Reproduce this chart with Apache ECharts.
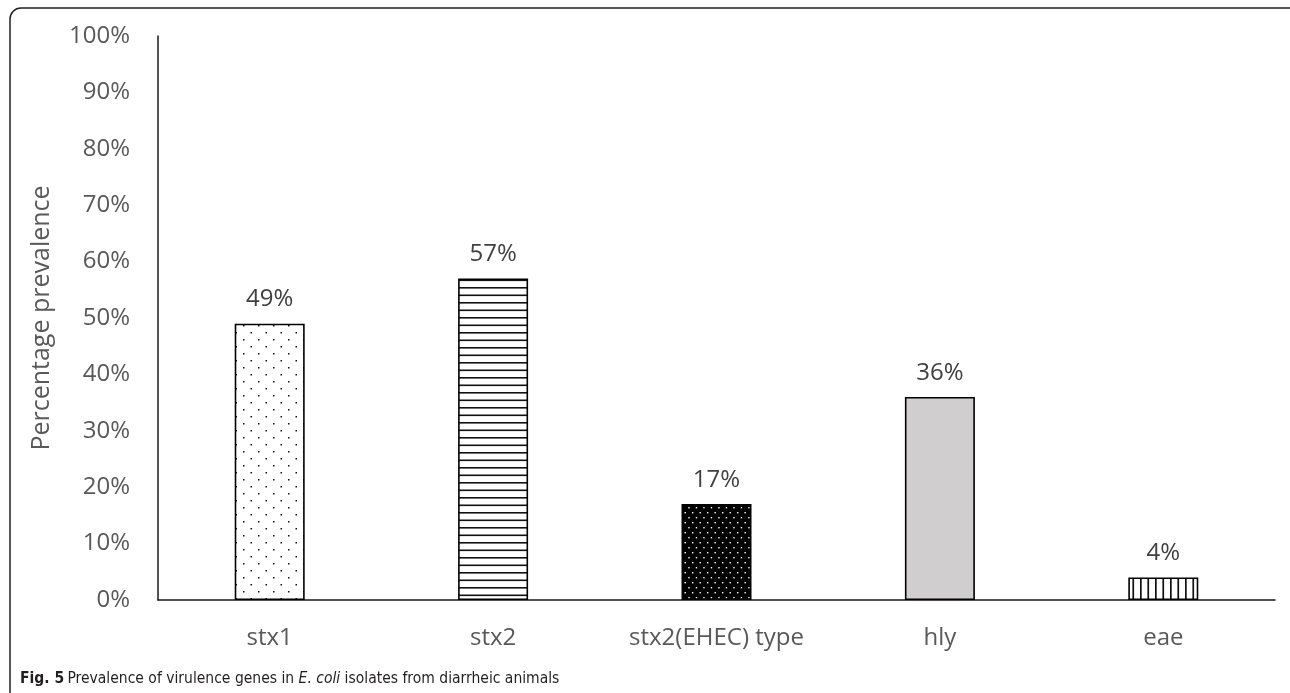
<!DOCTYPE html>
<html>
<head>
<meta charset="utf-8">
<script src="https://cdn.jsdelivr.net/npm/echarts@6/dist/echarts.min.js"></script>
<style>
  html, body { margin: 0; padding: 0; background: #fff; }
  #chart { width: 1290px; height: 693px; }
</style>
</head>
<body>
<div id="chart"></div>
<script>
// Virulence gene prevalence (%) among E. coli isolates
const genes = ['stx1', 'stx2', 'stx2(EHEC) type', 'hly', 'eae'];
const prevalence = [49, 57, 17, 36, 4];
const yTicks = [0, 10, 20, 30, 40, 50, 60, 70, 80, 90, 100];

// ---- fill patterns drawn on small canvases ----
function makeTile(w, h, draw) {
  const c = document.createElement('canvas');
  c.width = w; c.height = h;
  const ctx = c.getContext('2d');
  draw(ctx, w, h);
  return { image: c, repeat: 'repeat' };
}
const sparseDots = makeTile(15, 14, (ctx, w, h) => {
  ctx.fillStyle = '#fff'; ctx.fillRect(0, 0, w, h);
  ctx.fillStyle = '#111';
  ctx.fillRect(3, 3, 1.5, 1.5);
  ctx.fillRect(10.5, 10, 1.5, 1.5);
});
const hLines = makeTile(8, 15, (ctx, w, h) => {
  ctx.fillStyle = '#fff'; ctx.fillRect(0, 0, w, h);
  ctx.fillStyle = '#111';
  ctx.fillRect(0, 2, w, 1.6);
  ctx.fillRect(0, 9.5, w, 1.6);
});
const darkDots = makeTile(15, 10, (ctx, w, h) => {
  ctx.fillStyle = '#000'; ctx.fillRect(0, 0, w, h);
  ctx.fillStyle = '#fff';
  ctx.fillRect(2, 2, 1.4, 1.4);
  ctx.fillRect(9.5, 2, 1.4, 1.4);
  ctx.fillRect(5.75, 7, 1.4, 1.4);
  ctx.fillRect(13.25, 7, 1.4, 1.4);
});
const vLines = makeTile(15, 8, (ctx, w, h) => {
  ctx.fillStyle = '#fff'; ctx.fillRect(0, 0, w, h);
  ctx.fillStyle = '#111';
  ctx.fillRect(0, 0, 1.7, h);
  ctx.fillRect(7.4, 0, 1.7, h);
});
const barFills = [sparseDots, hLines, darkDots, '#D0CECE', vLines];

const labelFont = "'Open Sans', 'Noto Sans', sans-serif";
const captionFont = "'Liberation Sans Narrow', 'DejaVu Sans Condensed', sans-serif";
const chart = echarts.init(document.getElementById('chart'), null, { renderer: 'canvas' });

chart.setOption({
  animation: false,
  backgroundColor: '#fff',
  grid: { left: 158, right: 15, top: 36, bottom: 93, containLabel: false },
  xAxis: {
    type: 'category',
    data: genes,
    axisLine: { lineStyle: { color: '#1a1a1a', width: 1.5 } },
    axisTick: { show: false },
    axisLabel: { interval: 0, color: '#595959', fontSize: 24, fontFamily: labelFont, margin: 26 }
  },
  yAxis: {
    type: 'value',
    min: 0, max: 100, interval: 10,
    name: 'Percentage prevalence',
    nameLocation: 'middle',
    nameGap: 104,
    nameRotate: 90,
    nameTextStyle: { color: '#595959', fontSize: 25, fontFamily: labelFont },
    axisLine: { show: true, lineStyle: { color: '#1a1a1a', width: 1.5 } },
    axisTick: { show: false },
    splitLine: { show: false },
    axisLabel: {
      color: '#595959', fontSize: 24, fontFamily: labelFont, margin: 28,
      formatter: v => (yTicks.includes(v) ? v + '%' : '')
    }
  },
  series: [{
    type: 'bar',
    barWidth: 70,
    data: prevalence.map((v, i) => ({
      value: v,
      itemStyle: { color: barFills[i], borderColor: '#000', borderWidth: 1.6 }
    })),
    label: {
      show: true, position: 'top', distance: 12,
      color: '#404040', fontSize: 24, fontFamily: labelFont,
      formatter: p => p.value + '%'
    }
  }],
  graphic: [
    {
      type: 'rect',
      shape: { x: 10, y: 8, width: 1290, height: 720, r: 11 },
      style: { fill: null, stroke: '#222', lineWidth: 1.5 },
      silent: true
    },
    {
      type: 'text',
      left: 20, top: 671,
      style: {
        rich: {
          b: { fontWeight: 'bold', fontSize: 15.5, fontFamily: captionFont, fill: '#231f20' },
          n: { fontSize: 15.5, fontFamily: captionFont, fill: '#231f20' },
          i: { fontStyle: 'italic', fontSize: 15.5, fontFamily: captionFont, fill: '#231f20' }
        },
        text: '{b|Fig. 5} {n|Prevalence of virulence genes in }{i|E. coli}{n| isolates from diarrheic animals}'
      }
    }
  ]
});
</script>
</body>
</html>
